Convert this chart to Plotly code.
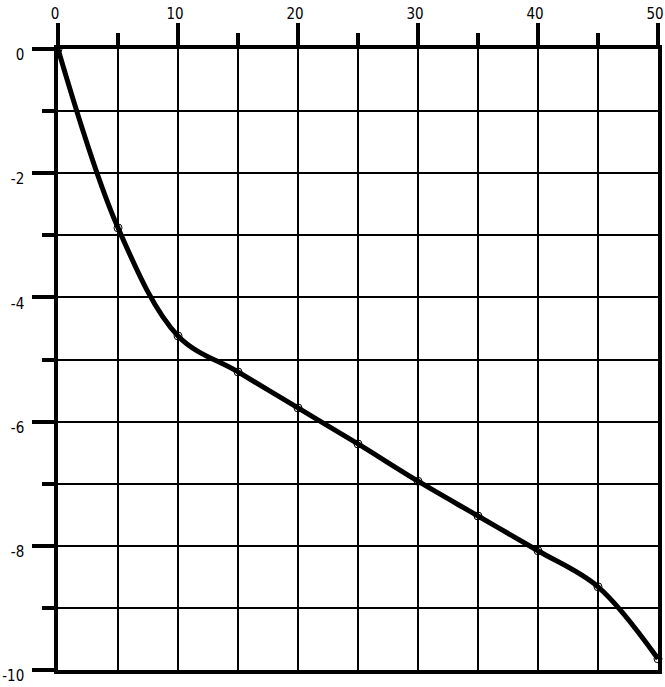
import plotly.graph_objects as go

x_values = [0, 5, 10, 15, 20, 25, 30, 35, 40, 45, 50]
y_values = [0, -2.88, -4.62, -5.2, -5.78, -6.36, -6.96, -7.52, -8.08, -8.66, -9.82]
x_ticks = [0, 10, 20, 30, 40, 50]
y_ticks = [0, -2, -4, -6, -8, -10]

FONT = "DejaVu Sans Condensed, Liberation Sans Narrow, Liberation Sans, sans-serif"

fig = go.Figure()
fig.add_trace(go.Scatter(
    x=x_values, y=y_values, mode="lines+markers",
    line=dict(color="black", width=5, shape="spline", smoothing=1.0),
    marker=dict(symbol="circle-open", size=8, color="black", line=dict(width=1, color="black")),
    cliponaxis=False, showlegend=False,
))

fig.update_layout(
    width=665, height=687,
    margin=dict(l=58, r=7, t=49, b=17, autoexpand=False),
    paper_bgcolor="white", plot_bgcolor="white",
    font=dict(family=FONT, size=15, color="black"),
    xaxis=dict(
        side="top", range=[0, 50], tickvals=x_ticks, ticktext=[str(v) for v in x_ticks],
        ticks="outside", ticklen=22, tickwidth=3.5, tickcolor="black",
        showgrid=True, gridcolor="black", gridwidth=2,
        showline=True, linecolor="black", linewidth=3.5, mirror=True, zeroline=False,
        minor=dict(dtick=5, tick0=0, ticks="outside", ticklen=12, tickwidth=3.5, tickcolor="black",
                   showgrid=True, gridcolor="black", gridwidth=2),
        ticklabelstandoff=-2, ticklabelshift=-3, automargin=False,
    ),
    yaxis=dict(
        range=[-10, 0], tickvals=y_ticks, ticktext=[str(v) for v in y_ticks],
        ticks="outside", ticklen=22, tickwidth=3.5, tickcolor="black",
        showgrid=True, gridcolor="black", gridwidth=2,
        showline=True, linecolor="black", linewidth=3.5, mirror=True, zeroline=False,
        minor=dict(dtick=1, tick0=0, ticks="outside", ticklen=12, tickwidth=3.5, tickcolor="black",
                   showgrid=True, gridcolor="black", gridwidth=2),
        ticklabelstandoff=5, ticklabelshift=6, automargin=False,
    ),
)

# remove the default page margin so the figure fills the window from its corner
fig.write_html("out.html", config={"displayModeBar": False},
               post_script="document.body.style.margin='0';")
